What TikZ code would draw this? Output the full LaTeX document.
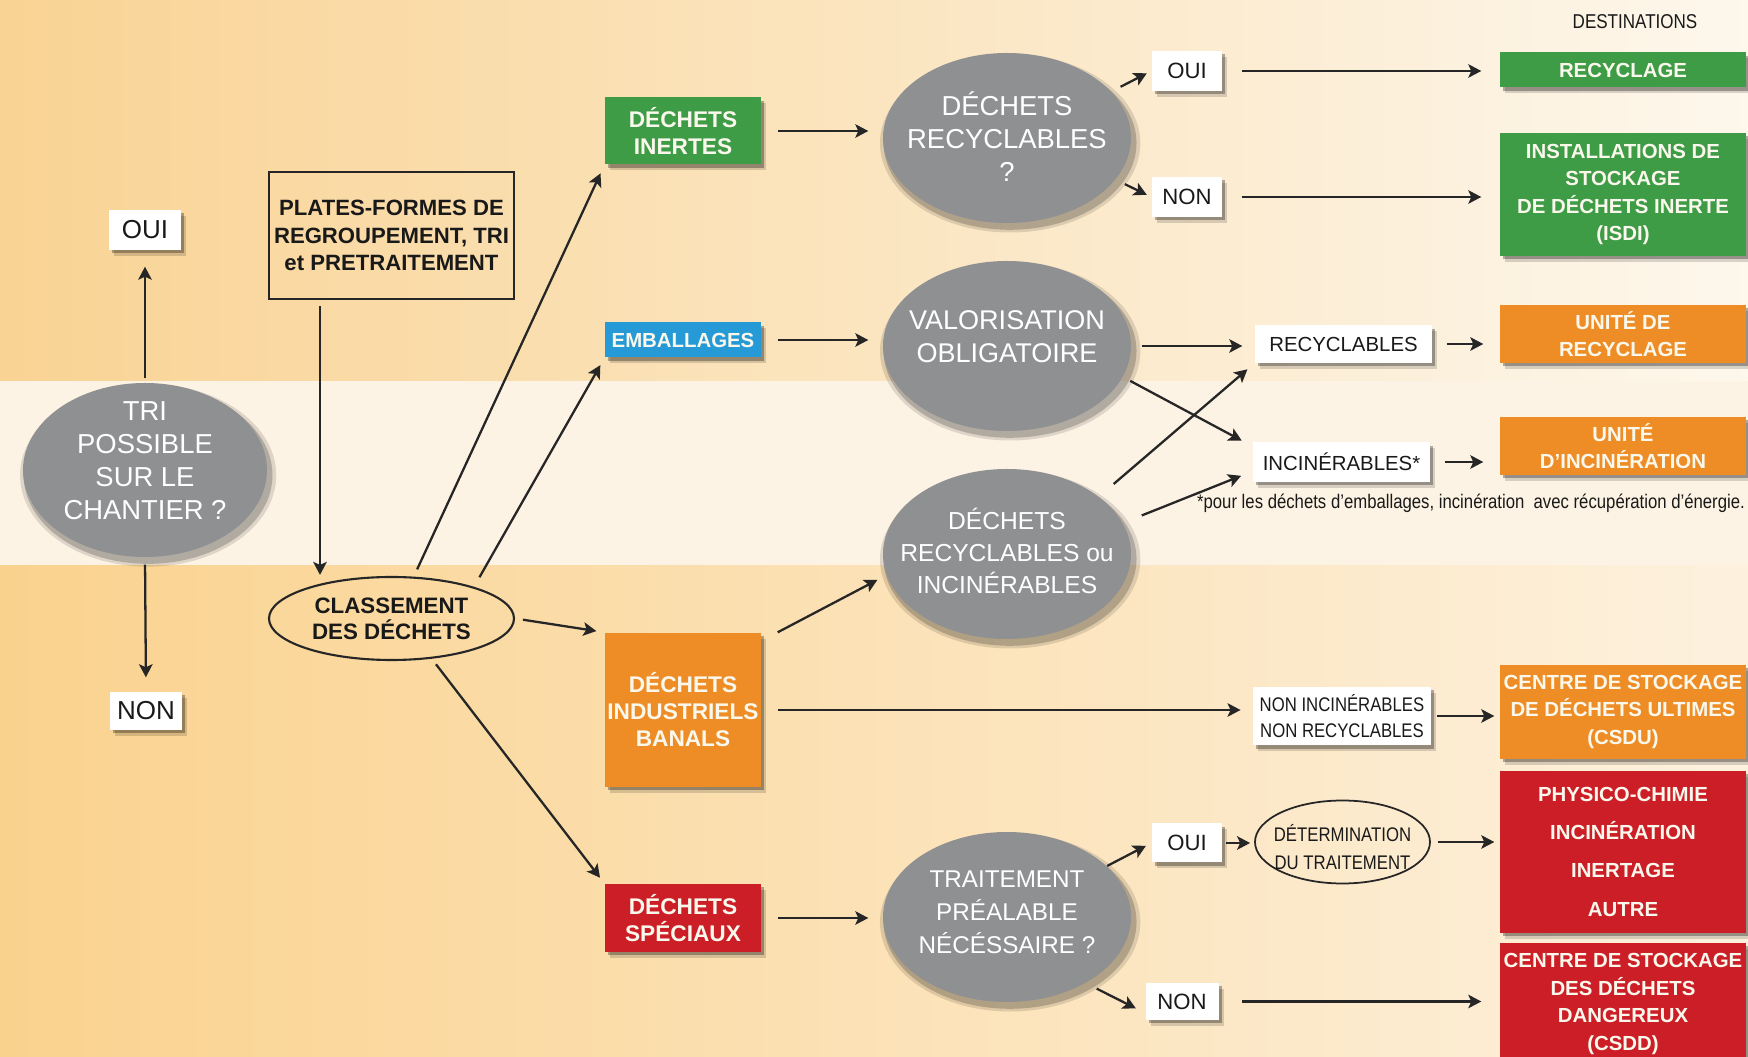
\documentclass[tikz,border=0pt]{standalone}
\usepackage{fontspec}
\setmainfont{Liberation Sans}
\newfontfamily\narrowfont[FakeStretch=0.85]{Liberation Sans}
\usetikzlibrary{shapes,arrows.meta,positioning,calc,shadows}

\definecolor{vert}{RGB}{62,155,70}
\definecolor{bleu}{RGB}{38,154,214}
\definecolor{orangebox}{RGB}{238,141,38}
\definecolor{rouge}{RGB}{204,30,38}
\definecolor{gris}{RGB}{143,144,146}
\definecolor{texteclair}{RGB}{250,248,236}
\definecolor{fondhautg}{RGB}{249,211,148}
\definecolor{fondhautm}{RGB}{252,233,203}
\definecolor{fondhautd}{RGB}{253,247,236}
\definecolor{bande}{RGB}{253,243,228}
\definecolor{fondbasg}{RGB}{250,210,142}
\definecolor{fondbasm}{RGB}{252,228,192}
\definecolor{fondbasd}{RGB}{253,241,222}

\tikzset{
	arr/.style={draw=black!85, line width=0.65pt, -{Stealth[length=1.3mm, width=1.35mm, inset=0.3mm]}},
	softshadow/.style={drop shadow={shadow xshift=0.5mm, shadow yshift=-0.6mm, opacity=0.15, fill=black},
		drop shadow={shadow xshift=0.3mm, shadow yshift=-0.35mm, opacity=0.3, fill=black}},
	catbox/.style={rectangle, inner sep=0pt, minimum width=1.56cm, text=texteclair, align=center,
		font=\bfseries\fontsize{6.45}{7.7}\selectfont, softshadow},
	destbox/.style={rectangle, inner sep=0pt, minimum width=2.46cm, text=texteclair, align=center,
		font=\bfseries\fontsize{5.8}{7.8}\selectfont, softshadow},
	greyell/.style={ellipse, inner sep=0pt, fill=gris, minimum width=2.48cm, minimum height=1.70cm,
		drop shadow={shadow xshift=0.3mm, shadow yshift=-0.5mm, shadow scale=1.05, opacity=0.12, fill=black},
		drop shadow={shadow xshift=0.3mm, shadow yshift=-0.5mm, shadow scale=1.02, opacity=0.2, fill=black}},
	elltext/.style={text=white, align=center, font=\fontsize{7.7}{9.4}\selectfont},
	answer/.style={rectangle, inner sep=0pt, fill=white, text=black!90, minimum width=0.70cm,
		minimum height=0.40cm, font=\fontsize{6.3}{7}\selectfont, softshadow},
	narrowtext/.style={align=center, text=black!90, font=\narrowfont\fontsize{5.6}{7.6}\selectfont}
}

\begin{document}
\begin{tikzpicture}
	\useasboundingbox (0,0) rectangle (17.48,-10.57);
	% background bands
	\shade[left color=fondhautg, middle color=fondhautm, right color=fondhautd] (0,0) rectangle (17.48,-3.81);
	\fill[bande] (0,-3.81) rectangle (17.48,-5.66);
	\shade[left color=fondbasg, middle color=fondbasm, right color=fondbasd] (0,-5.66) rectangle (17.48,-10.57);
	
	% sorting on site ?
	\node[greyell, minimum width=2.44cm, minimum height=1.74cm] (tri) at (1.45,-4.70) {};
	\node[elltext, font=\fontsize{7.8}{9.4}\selectfont] (tritxt) at (1.45,-4.61) {TRI\\POSSIBLE\\SUR LE\\CHANTIER ?};
	\node[answer, minimum width=0.71cm, font=\fontsize{7.4}{8}\selectfont] (oui0) at (1.45,-2.30) {OUI};
	\node[answer, minimum width=0.72cm, minimum height=0.38cm, font=\fontsize{7.4}{8}\selectfont] (non0) at (1.46,-7.11) {NON};
	\draw[arr, shorten <=0.04cm, shorten >=0.16cm] (tri.north) -- (oui0.south);
	\draw[arr, shorten <=0.07cm, shorten >=0.14cm] (tri.south) -- (non0.north);
	
	% platforms and classification
	\node[draw=black!85, line width=0.6pt, inner sep=0pt, minimum width=2.45cm, minimum height=1.27cm,
		align=center, text=black!90, font=\bfseries\fontsize{6.3}{7.8}\selectfont] (plates) at (3.915,-2.355)
		{PLATES-FORMES DE\\REGROUPEMENT, TRI\\et PRETRAITEMENT};
	\node[ellipse, draw=black!85, line width=0.6pt, inner sep=0pt, minimum width=2.45cm, minimum height=0.83cm,
		align=center, text=black!90, font=\bfseries\fontsize{6.35}{7.4}\selectfont] (cls) at (3.915,-6.185)
		{CLASSEMENT\\DES DÉCHETS};
	\draw[arr, shorten <=0.06cm, shorten >=0.01cm] ([xshift=-0.715cm]plates.south) -- ([xshift=-0.715cm]cls.north);
	
	% waste categories
	\node[catbox, fill=vert, minimum height=0.67cm] (di) at (6.83,-1.31) {DÉCHETS\\INERTES};
	\node[catbox, fill=bleu, minimum height=0.35cm, font=\bfseries\fontsize{5.8}{7}\selectfont] (emb) at (6.83,-3.40) {EMBALLAGES};
	\node[catbox, fill=orangebox, minimum height=1.54cm] (dib) at (6.83,-7.10) {DÉCHETS\\INDUSTRIELS\\BANALS};
	\node[catbox, fill=rouge, minimum height=0.68cm] (ds) at (6.83,-9.18) {DÉCHETS\\SPÉCIAUX};
	\draw[arr, shorten <=0.08cm, shorten >=0.09cm] (cls.62) -- (di.south west);
	\draw[arr, shorten <=0.11cm, shorten >=0.08cm] (cls.21) -- (emb.south west);
	\draw[arr, shorten <=0.08cm, shorten >=0.08cm] (cls.east) -- (dib.north west);
	\draw[arr, shorten <=0.07cm, shorten >=0.07cm] (cls.-45) -- (ds.north west);
	
	% questions
	\node[greyell] (drq) at (10.07,-1.38) {};
	\node[elltext, font=\fontsize{7.8}{9.4}\selectfont] (drqtxt) at (10.07,-1.37) {DÉCHETS\\RECYCLABLES\\?};
	\node[greyell] (val) at (10.07,-3.46) {};
	\node[elltext] (valtxt) at (10.07,-3.37) {VALORISATION\\OBLIGATOIRE};
	\node[greyell] (dri) at (10.07,-5.54) {};
	\node[elltext, font=\fontsize{7}{9.2}\selectfont] (dritxt) at (10.07,-5.51) {DÉCHETS\\RECYCLABLES ou\\INCINÉRABLES};
	\node[greyell] (tra) at (10.07,-9.17) {};
	\node[elltext, font=\fontsize{6.9}{9.4}\selectfont] (tratxt) at (10.07,-9.12) {TRAITEMENT\\PRÉALABLE\\NÉCÉSSAIRE ?};
	\draw[arr, shorten <=0.16cm, shorten >=0.14cm] (di.east) -- (di.east -| drq.west);
	\draw[arr, shorten <=0.16cm, shorten >=0.14cm] (emb.east) -- (emb.east -| val.west);
	\draw[arr, shorten >=0.10cm] ([xshift=0.16cm]dib.north east) -- (dri.190);
	\draw[arr, shorten <=0.16cm, shorten >=0.14cm] (ds.east) -- (ds.east -| tra.west);
	
	% answers
	\node[answer] (oui1) at (11.87,-0.71) {OUI};
	\node[answer] (non1) at (11.87,-1.97) {NON};
	\node[answer, minimum height=0.39cm] (oui2) at (11.87,-8.43) {OUI};
	\node[answer, minimum width=0.73cm, minimum height=0.37cm] (non2) at (11.82,-10.015) {NON};
	\node[answer, minimum width=1.77cm, minimum height=0.375cm, font=\fontsize{5.8}{7}\selectfont] (recy) at (13.435,-3.44) {RECYCLABLES};
	\node[answer, minimum width=1.77cm, minimum height=0.395cm, font=\fontsize{5.8}{7}\selectfont] (inc) at (13.415,-4.62) {INCINÉRABLES*};
	\node[answer, narrowtext, minimum width=1.785cm, minimum height=0.585cm] (nonin) at (13.42,-7.16) {NON INCINÉRABLES\\NON RECYCLABLES};
	\node[ellipse, draw=black!85, line width=0.5pt, inner sep=0pt, minimum width=1.75cm, minimum height=0.83cm] (det) at (13.425,-8.42) {};
	\node[narrowtext, font=\narrowfont\fontsize{5.6}{8}\selectfont] (dettxt) at (13.425,-8.47) {DÉTERMINATION\\DU TRAITEMENT};
	\node[narrowtext] (note) at (14.71,-5.03) {*pour les déchets d’emballages, incinération~ avec récupération d’énergie.};
	
	\draw[arr, shorten <=0.10cm, shorten >=0.05cm] (drq.24) -- (oui1.west);
	\draw[arr, shorten <=0.10cm, shorten >=0.05cm] (drq.-21) -- (non1.west);
	\draw[arr, shorten <=0.10cm, shorten >=0.12cm] (val.east) -- (val.east -| recy.west);
	\draw[arr, shorten <=0.08cm, shorten >=0.12cm] (val.-15) -- (inc.170);
	\draw[arr, shorten <=0.19cm, shorten >=0.09cm] (dri.32) -- (recy.south west);
	\draw[arr, shorten <=0.20cm, shorten >=0.12cm] (dri.15) -- (inc.186);
	\draw[arr, shorten <=0.16cm, shorten >=0.115cm] (dib.east) -- (dib.east -| nonin.west);
	\draw[arr, shorten >=0.06cm] (tra.27) -- (oui2.west);
	\draw[arr, shorten <=0.12cm, shorten >=0.10cm] (tra.-40) -- (non2.197);
	\draw[arr, shorten <=0.035cm, shorten >=0.04cm] (oui2.east) -- (oui2.east -| det.west);
	
	% destinations
	\node[text=black!90, font=\narrowfont\fontsize{5.7}{7}\selectfont] (dest) at (16.35,-0.22) {DESTINATIONS};
	\node[destbox, fill=vert, minimum height=0.35cm] (rec) at (16.23,-0.70) {RECYCLAGE};
	\node[destbox, fill=vert, minimum height=1.23cm] (isdi) at (16.23,-1.945) {INSTALLATIONS DE\\STOCKAGE\\DE DÉCHETS INERTE\\(ISDI)};
	\node[destbox, fill=orangebox, minimum height=0.58cm] (urec) at (16.23,-3.34) {UNITÉ DE\\RECYCLAGE};
	\node[destbox, fill=orangebox, minimum height=0.58cm] (uinc) at (16.23,-4.46) {UNITÉ\\D'INCINÉRATION};
	\node[destbox, fill=orangebox, minimum height=0.94cm] (csdu) at (16.23,-7.12) {CENTRE DE STOCKAGE\\DE DÉCHETS ULTIMES\\(CSDU)};
	\node[destbox, fill=rouge, minimum height=1.62cm, font=\bfseries\fontsize{5.8}{10.9}\selectfont] (phys) at (16.23,-8.517) {PHYSICO-CHIMIE\\INCINÉRATION\\INERTAGE\\AUTRE};
	\node[destbox, fill=rouge, minimum height=1.22cm] (csdd) at (16.23,-10.04) {CENTRE DE STOCKAGE\\DES DÉCHETS\\DANGEREUX\\(CSDD)};
	
	\draw[arr, shorten <=0.19cm, shorten >=0.18cm] (oui1.east) -- (oui1.east -| rec.west);
	\draw[arr, shorten <=0.19cm, shorten >=0.18cm] (non1.east) -- (non1.east -| isdi.west);
	\draw[arr, shorten <=0.14cm, shorten >=0.16cm] (recy.east) -- (recy.east -| urec.west);
	\draw[arr, shorten <=0.14cm, shorten >=0.16cm] (inc.east) -- (inc.east -| uinc.west);
	\draw[arr, shorten <=0.05cm, shorten >=0.05cm] (nonin.east) -- (nonin.east -| csdu.west);
	\draw[arr, shorten <=0.07cm, shorten >=0.05cm] (det.east) -- (det.east -| phys.west);
	\draw[arr, shorten <=0.23cm, shorten >=0.18cm] (non2.east) -- (non2.east -| csdd.west);
\end{tikzpicture}
\end{document}
